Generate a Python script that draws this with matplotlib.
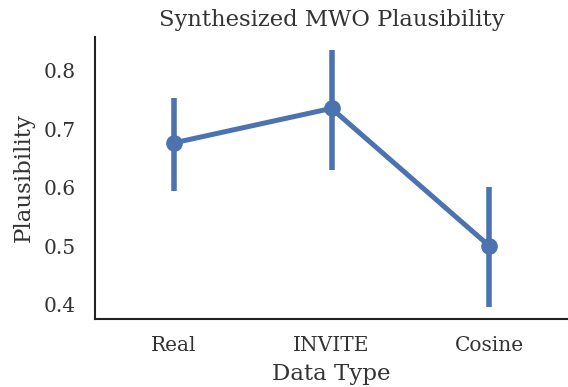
import matplotlib
matplotlib.use("Agg")
import matplotlib.pyplot as plt

categories = ["Real", "INVITE", "Cosine"]
means = [0.677, 0.736, 0.501]
ci_low = [0.595, 0.631, 0.397]
ci_high = [0.754, 0.836, 0.602]

plt.rcParams['font.family'] = ['DejaVu Serif']
color = "#4C72B0"
txt = '#333333'

fig = plt.figure(figsize=(5.68, 3.87), dpi=100)
ax = fig.add_axes([95/568, 1-319/387, (568-95)/568, (319-37)/387])

x = list(range(len(categories)))
for xi, lo, hi in zip(x, ci_low, ci_high):
    ax.plot([xi, xi], [lo, hi], color=color, lw=4, solid_capstyle='butt')
ax.plot(x, means, color=color, lw=3.6, marker='o', markersize=11)

ax.set_xticks(x)
ax.set_xticklabels(categories)
ax.set_xlim(-0.5, 2.5)
ax.set_ylim(0.376, 0.858)
ax.set_yticks([0.4, 0.5, 0.6, 0.7, 0.8])
ax.tick_params(axis='both', length=0, labelsize=14.5, colors=txt)
ax.tick_params(axis='x', pad=12)
ax.tick_params(axis='y', pad=14)
for s in ['top', 'right']:
    ax.spines[s].set_visible(False)
for s in ['left', 'bottom']:
    ax.spines[s].set_color('#222222')
    ax.spines[s].set_linewidth(1.5)
ax.set_xlabel("Data Type", fontsize=16.5, color=txt, labelpad=6)
ax.set_ylabel("Plausibility", fontsize=16.5, color=txt, labelpad=6)
ax.set_title("Synthesized MWO Plausibility", fontsize=16.3, color=txt, pad=8)

fig.savefig("out.png", dpi=100)
